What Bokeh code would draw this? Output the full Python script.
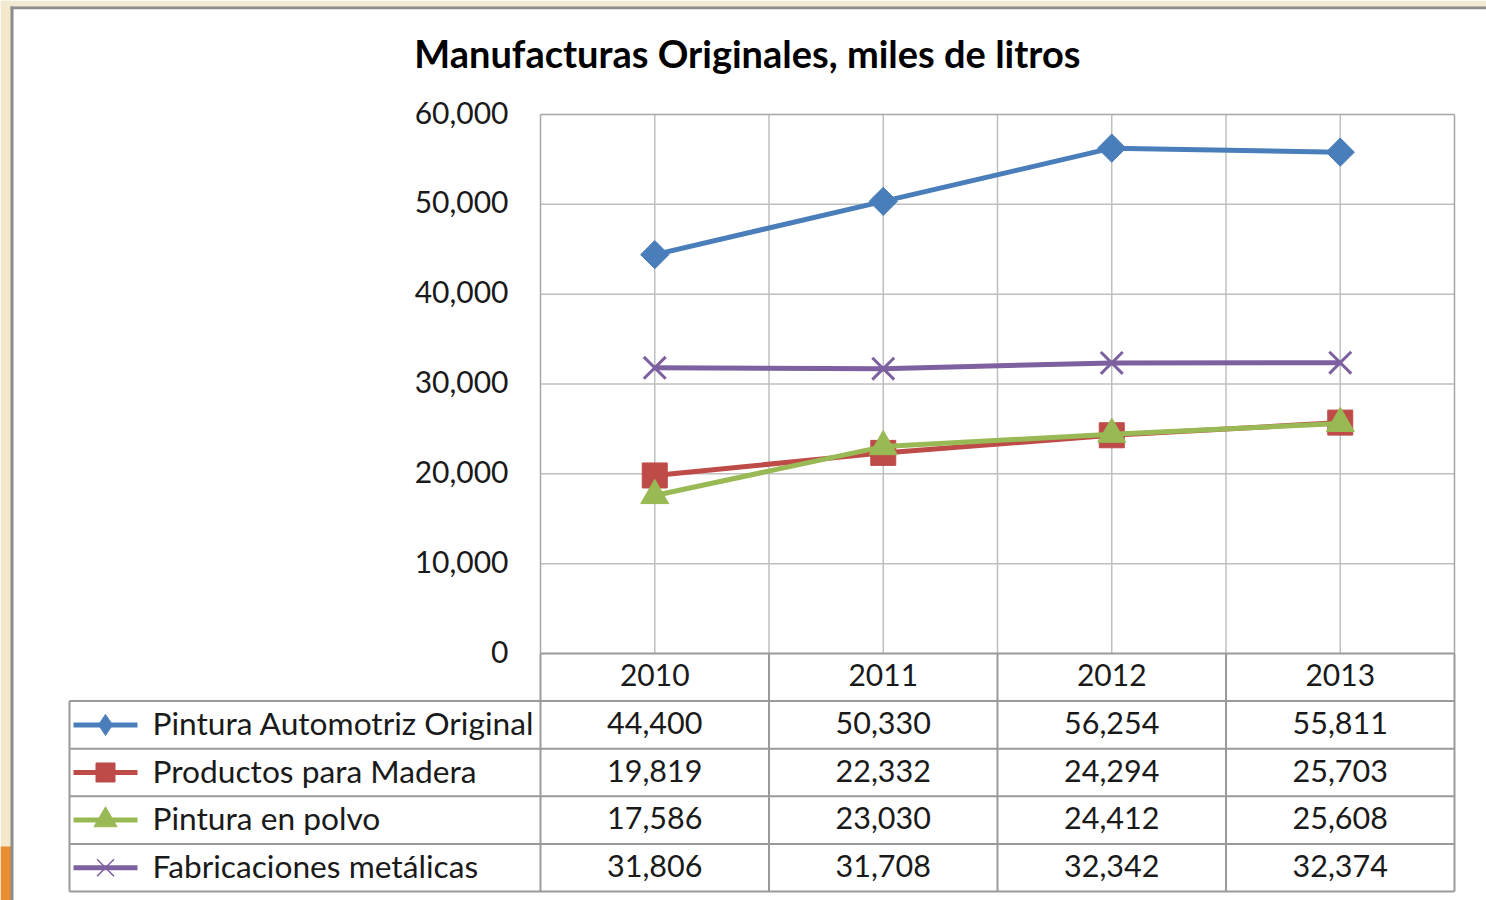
import numpy as np
from bokeh.plotting import figure
from bokeh.models import Range1d
from bokeh.embed import file_html
from bokeh.resources import INLINE
from bokeh.core.properties import value

# ---------------- data ----------------
years = ["2010", "2011", "2012", "2013"]
series_names = ["Pintura Automotriz Original", "Productos para Madera",
                "Pintura en polvo", "Fabricaciones metálicas"]
pintura_automotriz = [44400, 50330, 56254, 55811]
productos_madera = [19819, 22332, 24294, 25703]
pintura_polvo = [17586, 23030, 24412, 25608]
fabricaciones_metalicas = [31806, 31708, 32342, 32374]
y_ticks = [0, 10000, 20000, 30000, 40000, 50000, 60000]
title_text = "Manufacturas  Originales, miles de litros"

series_values = [pintura_automotriz, productos_madera, pintura_polvo, fabricaciones_metalicas]

# ---------------- styles / geometry ----------------
colors = ["#4A7EBB", "#BE4B48", "#98B954", "#7D60A0"]
FONT = "Lato"
TXT = "#1a1a1a"
GRID = "#BFBFBF"
FRAME = "#A6A6A6"
TABLE = "#9A9A9A"

W, H = 1486, 900
CAT_PX = 228.5              # px per category
X0_PX = 540                 # x of category boundary 0
Y0_PX, YMAX_PX = 653, 114   # y of value 0 and of the top value
YMAX = y_ticks[-1]
ROW_PX = 47.6
vpp = YMAX / (Y0_PX - YMAX_PX)


def X(px):
    return (px - X0_PX) / CAT_PX


def YV(py):
    return (Y0_PX - py) * vpp


def YR(py):
    return (py - Y0_PX) / ROW_PX


p = figure(width=W, height=H,
           x_range=Range1d(X(0), X(W)),
           y_range=Range1d(YV(H), YV(0)),
           x_axis_location=None, y_axis_location=None,
           output_backend="svg", toolbar_location=None,
           min_border_left=0, min_border_right=0,
           min_border_top=0, min_border_bottom=0)
p.extra_y_ranges = {"rows": Range1d(YR(H), YR(0))}
p.outline_line_color = None
p.grid.visible = False
R = "rows"

# ---------------- surrounding slide background + chart border ----------------
p.quad(left=[X(0)], right=[X(10.5)], bottom=[YV(H)], top=[YV(0)],
       fill_color="#F3E8C9", line_color=None)
p.quad(left=[X(0)], right=[X(10.5)], bottom=[YV(H)], top=[YV(846)],
       fill_color="#E98E30", line_color=None)
p.quad(left=[X(0)], right=[X(W)], bottom=[YV(6.5)], top=[YV(0)],
       fill_color="#F1E9D2", line_color=None)
p.quad(left=[X(10)], right=[X(13)], bottom=[YV(H)], top=[YV(6)],
       fill_color="#8C8C8C", line_color=None)
p.quad(left=[X(10)], right=[X(W)], bottom=[YV(8.7)], top=[YV(6)],
       fill_color="#8C8C8C", line_color=None)

# ---------------- title ----------------
p.text([X(751.5)], [YV(55)], text=[title_text], text_align="center", text_baseline="middle",
       y_offset=-3,
       text_font=value(FONT), text_font_style="bold", text_font_size="38px",
       text_color="#000000")

n = len(years)
xc = [i + 0.5 for i in range(n)]

# ---------------- chart grid ----------------
gx = [k * 0.5 for k in range(1, 2 * n)]
p.segment(gx, [0] * len(gx), gx, [YMAX] * len(gx), line_color=GRID, line_width=1.5)
inner_ticks = y_ticks[1:-1]
p.segment([0] * len(inner_ticks), inner_ticks, [n] * len(inner_ticks), inner_ticks,
          line_color=GRID, line_width=1.5)
p.segment([0, n, 0], [0, 0, YMAX], [0, n, n], [YMAX, YMAX, YMAX],
          line_color=FRAME, line_width=1.5)

# y tick labels
p.text([X(508)] * len(y_ticks), y_ticks,
       text=[f"{t:,}" for t in y_ticks], text_align="right", text_baseline="middle",
       y_offset=-2,
       text_font=value(FONT), text_font_size="30px", text_color=TXT)

# ---------------- series ----------------
for vals, c, m in zip(series_values, colors, ["diamond", "square", "triangle", "x"]):
    p.line(xc, vals, line_color=c, line_width=5)
    if m == "diamond":
        p.scatter(xc, vals, marker="square", angle=np.pi / 4, size=20,
                  fill_color=c, line_color=c)
    elif m == "square":
        p.scatter(xc, vals, marker="square", size=25, fill_color=c, line_color=c)
    elif m == "triangle":
        p.scatter(xc, vals, marker="triangle", size=28, fill_color=c, line_color=c)
    else:
        p.scatter(xc, vals, marker="x", size=31, line_color=c, line_width=3)

# ---------------- data table ----------------
nrows = len(series_names)
left_u = X(69)
hx0, hy0, hx1, hy1 = [0], [0], [n], [0]
for r in range(1, nrows + 2):
    hx0.append(left_u); hx1.append(n); hy0.append(r); hy1.append(r)
for k in range(0, n + 1):
    hx0.append(k); hx1.append(k); hy0.append(0); hy1.append(nrows + 1)
hx0.append(left_u); hx1.append(left_u); hy0.append(1); hy1.append(nrows + 1)
p.segment(hx0, hy0, hx1, hy1, line_color=TABLE, line_width=2, y_range_name=R)

p.text(xc, [0.5] * n, text=years, y_range_name=R,
       text_align="center", text_baseline="middle", y_offset=-2,
       text_font=value(FONT), text_font_size="30px", text_color=TXT)

tx, ty, tt = [], [], []
for r, vals in enumerate(series_values):
    for i, v in enumerate(vals):
        tx.append(i + 0.5); ty.append(r + 1.5); tt.append(f"{v:,}")
p.text(tx, ty, text=tt, y_range_name=R, text_align="center", text_baseline="middle",
       y_offset=-2,
       text_font=value(FONT), text_font_size="30.5px", text_color=TXT)

rows_y = [r + 1.5 for r in range(nrows)]
key_xm = X(105)
p.segment([X(73)] * nrows, rows_y, [X(137)] * nrows, rows_y, y_range_name=R,
          line_color=colors, line_width=5)
p.scatter([key_xm], [rows_y[0]], marker="diamond", size=21, y_range_name=R,
          fill_color=colors[0], line_color=colors[0])
p.scatter([key_xm], [rows_y[1]], marker="square", size=19, y_range_name=R,
          fill_color=colors[1], line_color=colors[1])
p.scatter([key_xm], [rows_y[2]], marker="triangle", size=23, y_range_name=R,
          fill_color=colors[2], line_color=colors[2])
p.scatter([key_xm], [rows_y[3]], marker="x", size=24, y_range_name=R,
          line_color=colors[3], line_width=1.5)
p.text([X(152)] * nrows, rows_y, text=series_names, y_range_name=R,
       text_align="left", text_baseline="middle", y_offset=-2,
       text_font=value(FONT), text_font_size="31.7px", text_color=TXT)

open("out.html", "w").write(file_html(p, INLINE))
